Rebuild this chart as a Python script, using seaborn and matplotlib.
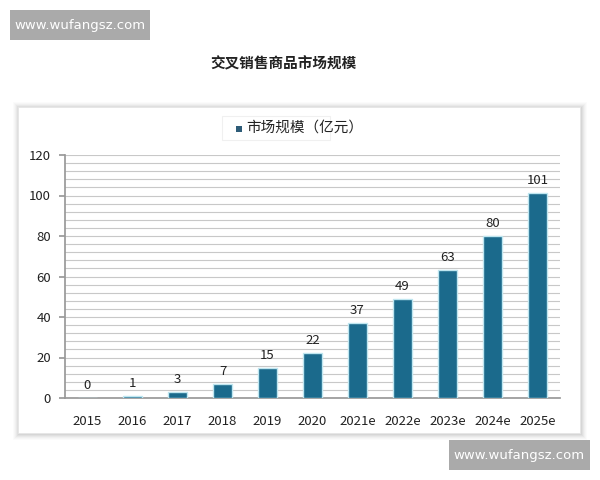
import matplotlib
matplotlib.use("Agg")
import matplotlib.pyplot as plt
import seaborn as sns
import pandas as pd
from matplotlib.patches import Rectangle

years = ["2015", "2016", "2017", "2018", "2019", "2020", "2021e", "2022e", "2023e", "2024e", "2025e"]
values = [0, 1, 3, 7, 15, 22, 37, 49, 63, 80, 101]
series_name = "市场规模（亿元）"
title = "交叉销售商品市场规模"

sns.set_theme(style="white")
plt.rcParams['font.family'] = ['Noto Sans CJK SC', 'DejaVu Sans']

W, H = 600, 480
fig = plt.figure(figsize=(6, 4.8), dpi=100)
fig.patch.set_facecolor("white")

def px(x0, y0, x1, y1):
    return [x0 / W, 1 - y1 / H, (x1 - x0) / W, (y1 - y0) / H]

# panel soft shadow + panel
for d, a in [(6, 0.015), (5, 0.02), (4, 0.025), (3, 0.03), (2, 0.035), (1, 0.04)]:
    r = Rectangle(((18 - d + 1) / W, 1 - (433 + d + 1) / H), (562 + 2 * d) / W, (326 + 2 * d) / H,
                  transform=fig.transFigure, facecolor="black", alpha=a, edgecolor="none", zorder=0)
    fig.patches.append(r)
fig.patches.append(Rectangle((18 / W, 1 - 433 / H), 562 / W, 326 / H, transform=fig.transFigure,
                             facecolor="white", edgecolor="#e6e6e6", lw=0.6, zorder=1))

# watermark boxes
fig.patches.append(Rectangle((10 / W, 1 - 40 / H), 140 / W, 30 / H, transform=fig.transFigure,
                             facecolor="#aaaaaa", edgecolor="none", zorder=5))
fig.text(80 / W, 1 - 25 / H, "www.wufangsz.com", color="white", fontsize=9.5,
         ha="center", va="center", family=["DejaVu Sans"], zorder=6)
fig.patches.append(Rectangle((449 / W, 1 - 470 / H), 141 / W, 30 / H, transform=fig.transFigure,
                             facecolor="#aaaaaa", edgecolor="none", zorder=5))
fig.text(519 / W, 1 - 455 / H, "www.wufangsz.com", color="white", fontsize=9.5,
         ha="center", va="center", family=["DejaVu Sans"], zorder=6)

# title
fig.text(283 / W, 1 - 63 / H, title, fontsize=10.5, fontweight="bold", color="#222222",
         ha="center", va="center")

ax = fig.add_axes(px(65, 155, 560, 398))
ax.set_zorder(3)
ax.patch.set_alpha(0)
df = pd.DataFrame({"year": years, "value": values})
sns.barplot(data=df, x="year", y="value", color="#1b6a8c", width=0.42, ax=ax,
            edgecolor="#bfe6f0", linewidth=1.0, saturation=1, zorder=3)

ax.set_ylim(0, 120)
ax.set_yticks(range(0, 121, 20))
ax.set_yticks(range(0, 121, 4), minor=True)
ax.grid(True, axis="y", which="both", color="#c8c8c8", lw=0.8, zorder=0)
ax.set_axisbelow(True)
ax.set_xlabel("")
ax.set_ylabel("")
for s in ["top", "right"]:
    ax.spines[s].set_visible(False)
ax.spines["left"].set_color("#999999")
ax.spines["bottom"].set_color("#999999")
ax.tick_params(axis="y", which="major", left=True, length=4, color="#999999", labelsize=9.5, labelcolor="#222222", pad=6)
ax.tick_params(axis="y", which="minor", left=False)
ax.tick_params(axis="x", bottom=False, labelsize=9.5, labelcolor="#222222", pad=6)

for i, v in enumerate(values):
    ax.text(i, v + 3, str(v), ha="center", va="bottom", fontsize=9.5, color="#222222")

# legend
fig.patches.append(Rectangle((222 / W, 1 - 140 / H), 108 / W, 24 / H, transform=fig.transFigure,
                             facecolor="white", edgecolor="#f0f0f0", lw=0.8, zorder=2))
fig.patches.append(Rectangle((236 / W, 1 - 132 / H), 6 / W, 6 / H, transform=fig.transFigure,
                             facecolor="#2e5c78", edgecolor="none", zorder=3))
fig.text(246 / W, 1 - 128 / H, series_name, fontsize=10.5, color="#222222", ha="left", va="center")

fig.savefig("out.png", dpi=100)
